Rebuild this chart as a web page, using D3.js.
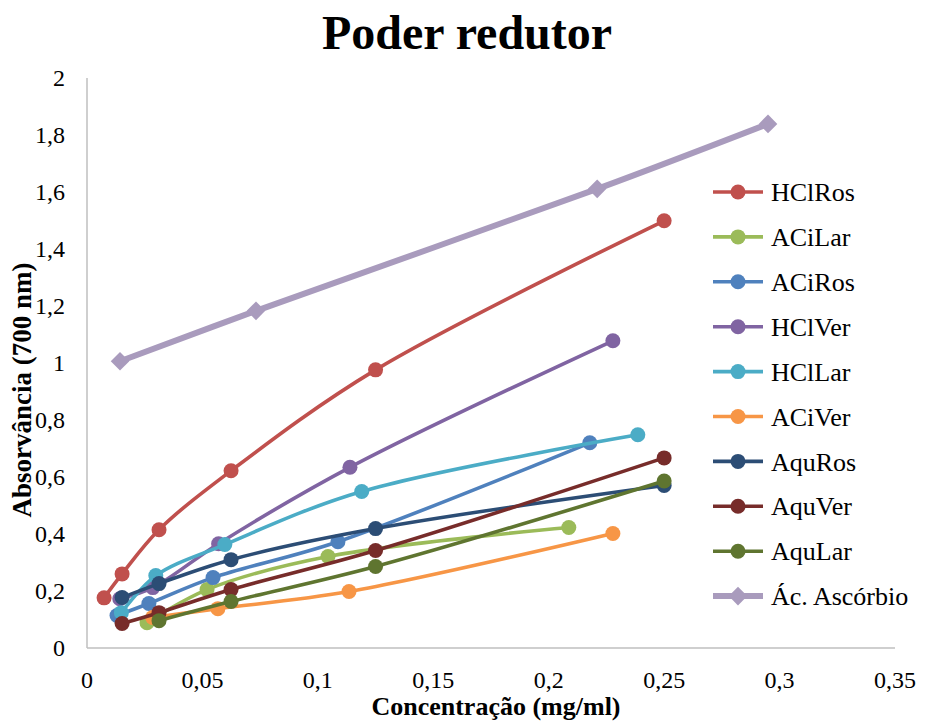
<!DOCTYPE html>
<html>
<head>
<meta charset="utf-8">
<script src="https://cdn.jsdelivr.net/npm/d3@7"></script>
<style>
  body { margin: 0; background: #fff; }
  text { font-family: "Liberation Serif", "Times New Roman", serif; fill: #000; }
</style>
</head>
<body>
<div id="viz"></div>
<script>
// series names and colours
var names = ["HClRos", "ACiLar", "ACiRos", "HClVer", "HClLar", "ACiVer", "AquRos", "AquVer", "AquLar", "Ác. Ascórbio"];
var colors = ["#C0504D", "#9BBB59", "#4F81BD", "#8064A2", "#4BACC6", "#F79646", "#2C4D75", "#772C2A", "#5F7530", "#A99BBD"];

// x values (mg/ml) per series
var xHClRos = [0.0074, 0.0152, 0.0312, 0.0624, 0.125, 0.25];
var xACiLar = [0.026, 0.052, 0.1044, 0.2087];
var xACiRos = [0.013, 0.0268, 0.0546, 0.1087, 0.2178];
var xHClVer = [0.0142, 0.0285, 0.057, 0.1139, 0.2278];
var xHClLar = [0.0149, 0.0298, 0.0597, 0.119, 0.2386];
var xACiVer = [0.0284, 0.0567, 0.1135, 0.2278];
var xAquRos = [0.0152, 0.0312, 0.0624, 0.125, 0.25];
var xAquVer = [0.0152, 0.0312, 0.0624, 0.125, 0.25];
var xAquLar = [0.0312, 0.0624, 0.125, 0.25];
var xAscorbico = [0.0143, 0.0732, 0.221, 0.295];

// absorbance values per series
var yHClRos = [0.176, 0.26, 0.415, 0.622, 0.976, 1.499];
var yACiLar = [0.089, 0.205, 0.321, 0.423];
var yACiRos = [0.114, 0.156, 0.247, 0.373, 0.72];
var yHClVer = [0.173, 0.212, 0.366, 0.634, 1.078];
var yHClLar = [0.124, 0.254, 0.363, 0.549, 0.748];
var yACiVer = [0.107, 0.138, 0.198, 0.402];
var yAquRos = [0.177, 0.226, 0.31, 0.419, 0.57];
var yAquVer = [0.086, 0.124, 0.205, 0.342, 0.667];
var yAquLar = [0.096, 0.163, 0.286, 0.586];
var yAscorbico = [1.006, 1.183, 1.611, 1.839];

var xTicks = [0, 0.05, 0.1, 0.15, 0.2, 0.25, 0.3, 0.35];
var yTicks = [0, 0.2, 0.4, 0.6, 0.8, 1, 1.2, 1.4, 1.6, 1.8, 2];

var xs = [xHClRos, xACiLar, xACiRos, xHClVer, xHClLar, xACiVer, xAquRos, xAquVer, xAquLar, xAscorbico];
var ys = [yHClRos, yACiLar, yACiRos, yHClVer, yHClLar, yACiVer, yAquRos, yAquVer, yAquLar, yAscorbico];

var series = names.map(function(n, i) {
  return { name: n, color: colors[i], pts: xs[i].map(function(v, j) { return [v, ys[i][j]]; }) };
});

var W = 925, H = 722;
var margin = {left: 87, right: 895, top: 78, bottom: 648};

var svg = d3.select("#viz").append("svg")
    .attr("width", W)
    .attr("height", H);

var x = d3.scaleLinear().domain([0, 0.35]).range([margin.left, margin.right]);
var y = d3.scaleLinear().domain([0, 2]).range([margin.bottom, margin.top]);

var fmt = function(d) { return String(+d.toFixed(2)).replace(".", ","); };

// axis lines
svg.append("line")
    .attr("x1", margin.left).attr("x2", margin.left).attr("y1", margin.top).attr("y2", margin.bottom)
    .attr("stroke", "#BFBFBF").attr("stroke-width", 1.5);
svg.append("line")
    .attr("x1", margin.left).attr("x2", margin.right).attr("y1", margin.bottom).attr("y2", margin.bottom)
    .attr("stroke", "#BFBFBF").attr("stroke-width", 1.5);

// tick labels
svg.selectAll(".ytick").data(yTicks).enter().append("text")
    .attr("class", "ytick")
    .attr("x", 65)
    .attr("y", function(d) { return y(d); })
    .attr("dy", "0.35em")
    .attr("text-anchor", "end")
    .style("font-size", "24px")
    .text(fmt);

svg.selectAll(".xtick").data(xTicks).enter().append("text")
    .attr("class", "xtick")
    .attr("x", function(d) { return x(d); })
    .attr("y", 688)
    .attr("text-anchor", "middle")
    .style("font-size", "24px")
    .text(fmt);

// titles
svg.append("text")
    .attr("x", 467).attr("y", 49)
    .attr("text-anchor", "middle")
    .style("font-size", "48px").style("font-weight", "bold")
    .text("Poder redutor");

svg.append("text")
    .attr("x", 496).attr("y", 715)
    .attr("text-anchor", "middle")
    .style("font-size", "26px").style("font-weight", "bold")
    .text("Concentração (mg/ml)");

svg.append("text")
    .attr("transform", "translate(31," + 390 + ")rotate(-90)")
    .attr("text-anchor", "middle")
    .style("font-size", "27px").style("font-weight", "bold")
    .text("Absorvância (700 nm)");

// lines
var line = d3.line()
    .x(function(d) { return x(d[0]); })
    .y(function(d) { return y(d[1]); })
    .curve(d3.curveCatmullRom.alpha(0.5));

var g = svg.selectAll(".series").data(series).enter().append("g")
    .attr("class", "series");

g.append("path")
    .attr("d", function(d) { return line(d.pts); })
    .attr("fill", "none")
    .attr("stroke", function(d) { return d.color; })
    .attr("stroke-width", function(d, i) { return i == 9 ? 6 : 3.6; })
    .attr("stroke-linejoin", "round");

var diamond = d3.symbol().type(d3.symbolDiamond2).size(220);

g.each(function(s, i) {
  var sel = d3.select(this);
  if (i == 9) {
    sel.selectAll("path.m").data(s.pts).enter().append("path")
        .attr("class", "m")
        .attr("d", diamond)
        .attr("transform", function(d) { return "translate(" + x(d[0]) + "," + y(d[1]) + ")"; })
        .attr("fill", s.color);
  } else {
    sel.selectAll("circle").data(s.pts).enter().append("circle")
        .attr("cx", function(d) { return x(d[0]); })
        .attr("cy", function(d) { return y(d[1]); })
        .attr("r", 7.5)
        .attr("fill", s.color);
  }
});

// legend
var lg = svg.selectAll(".legend").data(series).enter().append("g")
    .attr("class", "legend")
    .attr("transform", function(d, i) { return "translate(713," + (192 + i * 44.9) + ")"; });

lg.append("line")
    .attr("x1", 0).attr("x2", 50)
    .attr("stroke", function(d) { return d.color; })
    .attr("stroke-width", function(d, i) { return i == 9 ? 6 : 3.6; });

lg.each(function(s, i) {
  var sel = d3.select(this);
  if (i == 9) {
    sel.append("path").attr("d", diamond).attr("transform", "translate(25,0)").attr("fill", s.color);
  } else {
    sel.append("circle").attr("cx", 25).attr("r", 7.5).attr("fill", s.color);
  }
});

lg.append("text")
    .attr("x", 58)
    .attr("dy", "0.35em")
    .style("font-size", "26px")
    .text(function(d) { return d.name; });
</script>
</body>
</html>
